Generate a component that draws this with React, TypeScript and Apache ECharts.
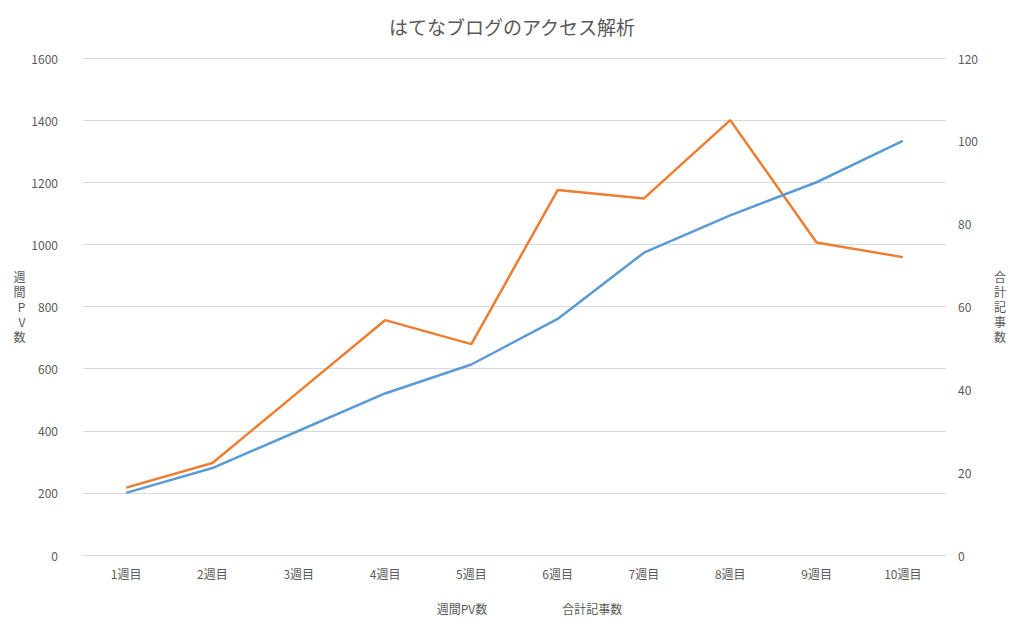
import React, { useEffect, useRef } from "react";
import * as echarts from "echarts";

const categories = ["1週目","2週目","3週目","4週目","5週目","6週目","7週目","8週目","9週目","10週目"];
const pvValues = [217, 296, 526, 756, 679, 1175, 1148, 1400, 1006, 959];
const articleValues = [15, 21, 30, 39, 46, 57, 73, 82, 90, 100];
const articlePos = ["bottom","bottom","top","top","top","top","top","top","top","top"];

export default function App() {
  const ref = useRef<HTMLDivElement>(null);
  useEffect(() => {
    const chart = echarts.init(ref.current!, null, { renderer: "svg" });
    const font = "'Noto Sans CJK JP', sans-serif";
    const txt = "#595959";
    chart.setOption({
      animation: false,
      textStyle: { fontFamily: font, color: txt },
      title: { text: "はてなブログのアクセス解析", left: "center", top: 4, textStyle: { fontSize: 19, fontWeight: "normal", color: txt, fontFamily: font } },
      legend: { bottom: 8, itemWidth: 30, icon: "path://M0,0h30v3h-30z", itemGap: 40, textStyle: { fontSize: 12, color: txt }, data: ["週間PV数", "合計記事数"] },
      grid: { left: 75, right: 70, top: 50, bottom: 72 },
      xAxis: { type: "category", data: categories, axisTick: { show: false }, axisLine: { lineStyle: { color: "#d9d9d9" } }, axisLabel: { color: txt, fontSize: 12, margin: 12 } },
      yAxis: [
        { type: "value", min: 0, max: 1600, interval: 200, name: "週\n間\nP\nV\n数", nameLocation: "middle", nameGap: 50, nameRotate: 0, nameTextStyle: { color: txt, fontSize: 12, lineHeight: 15 }, axisLabel: { color: txt, fontSize: 12, margin: 25, formatter: (v: number) => String(v) }, splitLine: { lineStyle: { color: "#d9d9d9" } } },
        { type: "value", min: 0, max: 120, interval: 20, name: "合\n計\n記\n事\n数", nameLocation: "middle", nameGap: 48, nameRotate: 0, nameTextStyle: { color: txt, fontSize: 12, lineHeight: 15 }, axisLabel: { color: txt, fontSize: 12, margin: 12 }, splitLine: { show: false } }
      ],
      series: [
        { name: "週間PV数", type: "line", data: pvValues, symbol: "circle", symbolSize: 1, showSymbol: true, itemStyle: { opacity: 0 }, color: "#ED7D31", lineStyle: { width: 2.5 },
          label: { show: true, position: "top", distance: 12, formatter: (p: any) => p.value + "PV", color: "#404040", fontSize: 12 } },
        { name: "合計記事数", type: "line", yAxisIndex: 1, data: articleValues.map((v, i) => ({ value: v, label: { position: articlePos[i] } })), symbol: "circle", symbolSize: 1, showSymbol: true, itemStyle: { opacity: 0 }, color: "#5B9BD5", lineStyle: { width: 2.5 },
          label: { show: true, distance: 10, formatter: (p: any) => p.value + "記事", color: "#404040", fontSize: 12 } }
      ]
    });
    return () => chart.dispose();
  }, []);
  return <div ref={ref} style={{ width: 1008, height: 619 }} />;
}
